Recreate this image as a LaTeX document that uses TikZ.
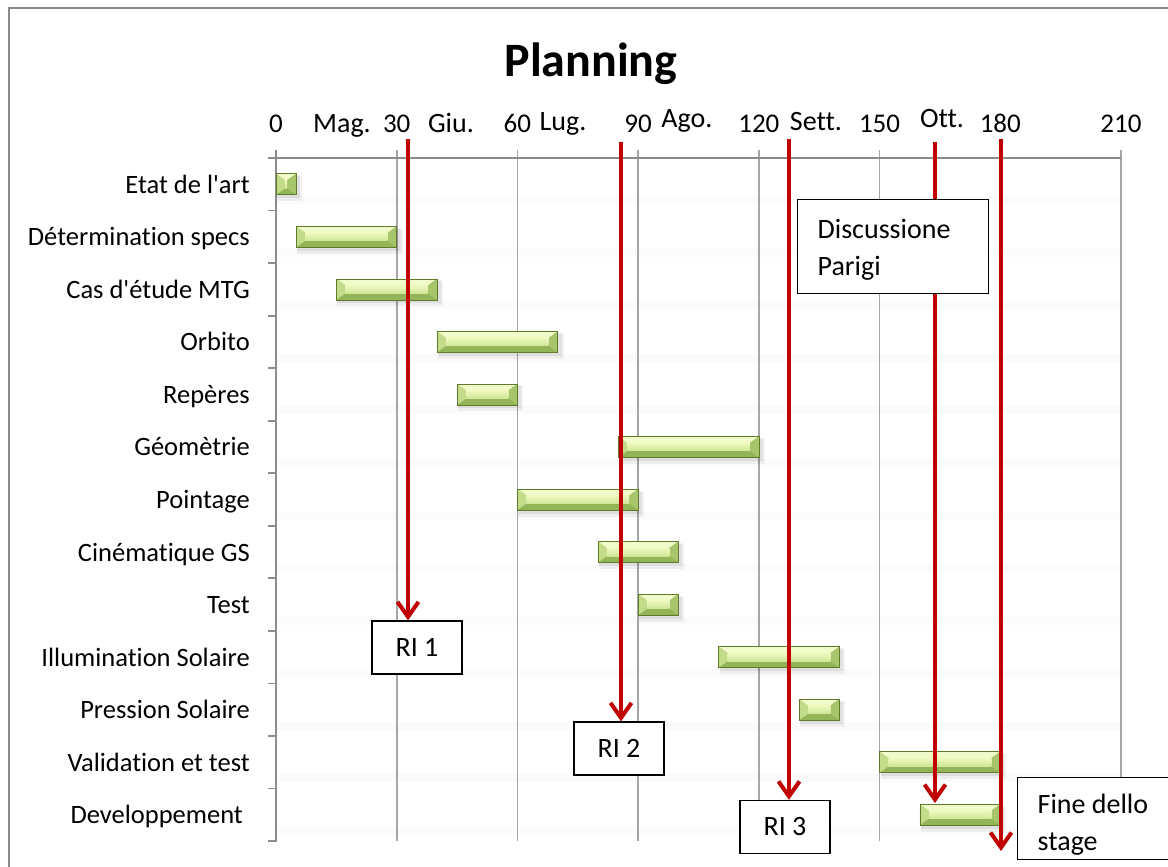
\documentclass[tikz,border=0pt]{standalone}
\usepackage{fontspec}
\setmainfont{Carlito}[Ligatures={TeXOff,NoCommon}]
\usetikzlibrary{arrows.meta}

\definecolor{msred}{HTML}{C00000}
\definecolor{gridgray}{HTML}{A6A6A6}
\definecolor{axisgray}{HTML}{8C8C8C}
\definecolor{framegray}{HTML}{8A8A8A}
\definecolor{bevtop}{HTML}{F1FBC9}
\definecolor{bevleft}{HTML}{C2DC8A}
\definecolor{bevright}{HTML}{A7C56B}
\definecolor{bevbot}{HTML}{94B458}
\definecolor{facetop}{HTML}{EEF9BE}
\definecolor{facebot}{HTML}{CFE697}
\definecolor{baredge}{HTML}{5E7A2A}

\tikzset{
  lbl/.style={font=\fontsize{27}{37}\selectfont, inner sep=0pt},
  monthlbl/.style={font=\fontsize{28}{34}\selectfont, inner sep=0pt, anchor=base},
  tasklbl/.style={font=\fontsize{26.5}{32}\selectfont, inner sep=0pt, anchor=base east},
  numlbl/.style={lbl, anchor=base},
  gridline/.style={draw=gridgray, line width=1.6pt},
  axisline/.style={draw=axisgray, line width=1.8pt},
  milestone/.style={draw=msred, line width=4pt, line cap=butt,
    -{Straight Barb[length=15pt,width=21pt]}},
  notebox/.style={draw=black, line width=1.3pt, fill=white, inner sep=0pt,
    font=\fontsize{28}{37}\selectfont},
}

% one bevelled Gantt bar: start day, end day, row number
\newcommand{\ganttbar}[3]{%
  \pgfmathsetmacro{\xa}{276+#1*4.0238}%
  \pgfmathsetmacro{\xb}{276+#2*4.0238}%
  \pgfmathsetmacro{\yc}{158+(#3-0.5)*52.54}%
  \fill[black,opacity=0.05] (\xa+1,\yc-8) rectangle (\xb+6,\yc+17);
  \fill[black,opacity=0.07] (\xa+1,\yc-9) rectangle (\xb+4,\yc+14);
  \fill[bevbot] (\xa,\yc-10.5) rectangle (\xb,\yc+10.5);
  \fill[bevtop] (\xa,\yc-10.5) -- (\xb,\yc-10.5) -- (\xb-9,\yc-4) -- (\xa+9,\yc-4) -- cycle;
  \fill[bevleft] (\xa,\yc-10.5) -- (\xa+9,\yc-4) -- (\xa+9,\yc+4) -- (\xa,\yc+10.5) -- cycle;
  \fill[bevright] (\xb,\yc-10.5) -- (\xb-9,\yc-4) -- (\xb-9,\yc+4) -- (\xb,\yc+10.5) -- cycle;
  \shade[top color=facetop, bottom color=facebot] (\xa+9,\yc-4) rectangle (\xb-9,\yc+4);
  \draw[baredge, line width=0.6pt] (\xa,\yc-10.5) rectangle (\xb,\yc+10.5);
}

\begin{document}
\begin{tikzpicture}[x=1pt, y=-1pt]
\useasboundingbox (0,0) rectangle (1168,867);
\clip (0,0) rectangle (1168,867);

% chart frame
\draw[framegray, line width=1.5pt] (9,8) rectangle (1190,890);

% title
\node[font=\fontsize{48}{56}\selectfont\bfseries, anchor=base, inner sep=0pt] (title) at (591,77) {Planning};

% faint row bands
\foreach \r in {1,...,13} {
  \pgfmathsetmacro{\yc}{158+(\r-0.5)*52.54}
  \fill[black!1.5] (277,\yc+12) rectangle (1121,\yc+20);
}

% vertical gridlines with top ticks
\foreach \d in {30,60,...,210} {
  \pgfmathsetmacro{\xg}{276+\d*4.0238}
  \draw[gridline] (\xg,150) -- (\xg,841);
}
% axes
\draw[axisline] (268,158) -- (1121,158);
\draw[axisline] (276,150) -- (276,842);
\foreach \r in {1,...,13} {
  \pgfmathsetmacro{\yb}{158+\r*52.54}
  \draw[axisline] (268,\yb) -- (276,\yb);
}

% day scale
\foreach \d in {0,30,...,210} {
  \pgfmathsetmacro{\xg}{276+\d*4.0238}
  \node[numlbl] (n\d) at (\xg,132) {\d};
}
% months
\node[monthlbl] (mag)  at (342,132) {Mag.};
\node[monthlbl] (giu)  at (451,132) {Giu.};
\node[monthlbl] (lug)  at (563,130) {Lug.};
\node[monthlbl] (ago)  at (687,128) {Ago.};
\node[monthlbl] (sett) at (816,130) {Sett.};
\node[monthlbl] (ott)  at (942,128) {Ott.};

% task names
\foreach \r/\t in {1/{Etat de l'art},2/{Détermination specs},3/{Cas d'étude MTG},
  4/{Orbito},5/{Repères},6/{Géomètrie},7/{Pointage},8/{Cinématique GS},9/{Test},
  10/{Illumination Solaire},11/{Pression Solaire},12/{Validation et test}} {
  \pgfmathsetmacro{\yc}{158+(\r-0.5)*52.54}
  \node[tasklbl] (task\r) at (250,\yc+9) {\t};
}
\node[tasklbl] (task13) at (243,158+12.5*52.54+9) {Developpement};

% bars
\ganttbar{0}{5}{1}
\ganttbar{5}{30}{2}
\ganttbar{15}{40}{3}
\ganttbar{40}{70}{4}
\ganttbar{45}{60}{5}
\ganttbar{85}{120}{6}
\ganttbar{60}{90}{7}
\ganttbar{80}{100}{8}
\ganttbar{90}{100}{9}
\ganttbar{110}{140}{10}
\ganttbar{130}{140}{11}
\ganttbar{150}{180}{12}
\ganttbar{160}{180}{13}

% milestone boxes
\node[notebox, minimum width=90pt, minimum height=53pt] (ri1) at (417,647.5) {RI 1};
\node[notebox, minimum width=90pt, minimum height=53pt] (ri2) at (619,748.5) {RI 2};
\node[notebox, minimum width=90pt, minimum height=53pt] (ri3) at (785,827) {RI 3};

% milestone arrows
\coordinate (m1) at (408,139);
\coordinate (m2) at (621,142);
\coordinate (m3) at (789,139);
\coordinate (m4) at (935,142);
\coordinate (m4end) at (935,803);
\coordinate (m5) at (1001,139);
\coordinate (m5end) at (1001,851);
\draw[milestone] (m1) -- (m1 |- ri1.north);
\draw[milestone] (m2) -- (m2 |- ri2.north);
\draw[milestone] (m3) -- (m3 |- ri3.north);
\draw[milestone] (m4) -- (m4end);
\draw[milestone] (m5) -- (m5end);

% note boxes (struts set the top padding of the text)
\node[notebox, anchor=north west, minimum height=94pt, text width=151pt,
  inner xsep=20pt, align=flush left] (disc) at (797,199)
  {\rule{0pt}{26pt}Discussione\\Parigi};
\node[notebox, anchor=north west, minimum height=82pt, text width=150pt,
  inner xsep=20pt, align=flush left] (fine) at (1017,777)
  {\rule{0pt}{32pt}Fine dello\\stage};
\end{tikzpicture}
\end{document}
